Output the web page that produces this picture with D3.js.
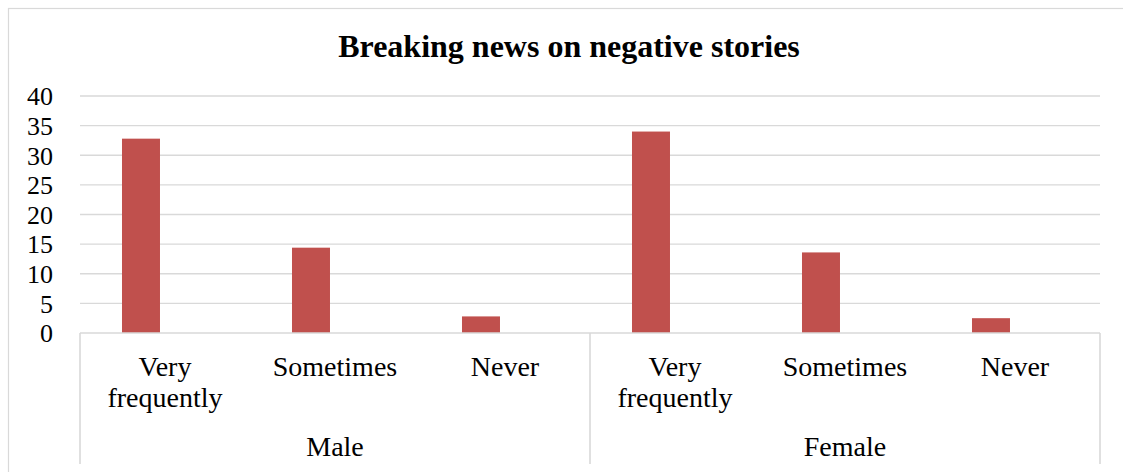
<!DOCTYPE html>
<html>
<head>
<meta charset="utf-8">
<script src="https://cdn.jsdelivr.net/npm/d3@7"></script>
<style>
  html, body { margin: 0; padding: 0; background: #fff; }
  svg { display: block; }
  text { font-family: "Liberation Serif", "Times New Roman", serif; fill: #000; }
</style>
</head>
<body>
<svg id="chart" width="1123" height="472"></svg>
<script>
const title = "Breaking news on negative stories";
const groups = ["Male", "Female"];
const categories = [["Very", "frequently"], ["Sometimes"], ["Never"]];
const maleValues = [32.8, 14.4, 2.8];
const femaleValues = [34.0, 13.6, 2.5];
const yTicks = [0, 5, 10, 15, 20, 25, 30, 35, 40];

const seriesByGroup = { Male: maleValues, Female: femaleValues };
const rows = [];
groups.forEach(g => categories.forEach((c, i) => rows.push({ key: g + "|" + i, group: g, label: c, value: seriesByGroup[g][i] })));

const svg = d3.select("#chart");
const plotLeft = 80, plotRight = 1100, plotTop = 96, plotBottom = 333;
const grid = "#d9d9d9";

// outer chart border (extends beyond the visible area on right/bottom)
svg.append("rect").attr("x", 8.5).attr("y", 8.5).attr("width", 1130).attr("height", 480)
  .attr("fill", "none").attr("stroke", grid).attr("stroke-width", 1.2);

const x = d3.scaleBand().domain(rows.map(d => d.key)).range([plotLeft, plotRight]).paddingInner(0).paddingOuter(0);
const y = d3.scaleLinear().domain([0, 40]).range([plotBottom, plotTop]);
const bw = x.bandwidth();

// gridlines
svg.append("g").selectAll("line").data(yTicks.filter(t => t > 0)).join("line")
  .attr("x1", plotLeft).attr("x2", plotRight)
  .attr("y1", d => y(d)).attr("y2", d => y(d))
  .attr("stroke", grid).attr("stroke-width", 1.4);

// y-axis labels
const yAxis = d3.axisLeft(y).tickValues(yTicks).tickSize(0).tickPadding(0).tickFormat(d3.format("d"));
const yg = svg.append("g").attr("transform", "translate(53,0)").call(yAxis);
yg.select(".domain").remove();
yg.selectAll("text").attr("font-size", 26).attr("fill", "#000")
  .attr("font-family", "Liberation Serif, serif").attr("dy", "0.34em").attr("x", 0);

// bars
svg.append("g").selectAll("rect").data(rows).join("rect")
  .attr("x", d => x(d.key) + bw * 0.247)
  .attr("width", bw * 0.2235)
  .attr("y", d => y(d.value))
  .attr("height", d => y(0) - y(d.value))
  .attr("fill", "#c0504d");

// category axis lines
svg.append("line").attr("x1", plotLeft).attr("x2", plotRight).attr("y1", plotBottom).attr("y2", plotBottom)
  .attr("stroke", grid).attr("stroke-width", 1.6);
const groupEdges = [plotLeft, x(groups[1] + "|0"), plotRight];
svg.append("g").selectAll("line").data(groupEdges).join("line")
  .attr("x1", d => d).attr("x2", d => d).attr("y1", plotBottom).attr("y2", 464)
  .attr("stroke", grid).attr("stroke-width", 1.6);

// category labels
const lab = svg.append("g").selectAll("text").data(rows).join("text")
  .attr("x", d => x(d.key) + bw / 2)
  .attr("y", 376)
  .attr("text-anchor", "middle")
  .attr("font-size", 28);
lab.selectAll("tspan").data(d => d.label.map(l => ({ l, x: x(d.key) + bw / 2 }))).join("tspan")
  .attr("x", d => d.x).attr("dy", (d, i) => i === 0 ? 0 : 31).text(d => d.l);

// group labels
svg.append("g").selectAll("text").data(groups).join("text")
  .attr("x", g => x(g + "|1") + bw / 2)
  .attr("y", 456)
  .attr("text-anchor", "middle")
  .attr("font-size", 28)
  .text(g => g);

// title
svg.append("text").attr("x", 569).attr("y", 57).attr("text-anchor", "middle")
  .attr("font-size", 32).attr("font-weight", "bold").text(title);
</script>
</body>
</html>
